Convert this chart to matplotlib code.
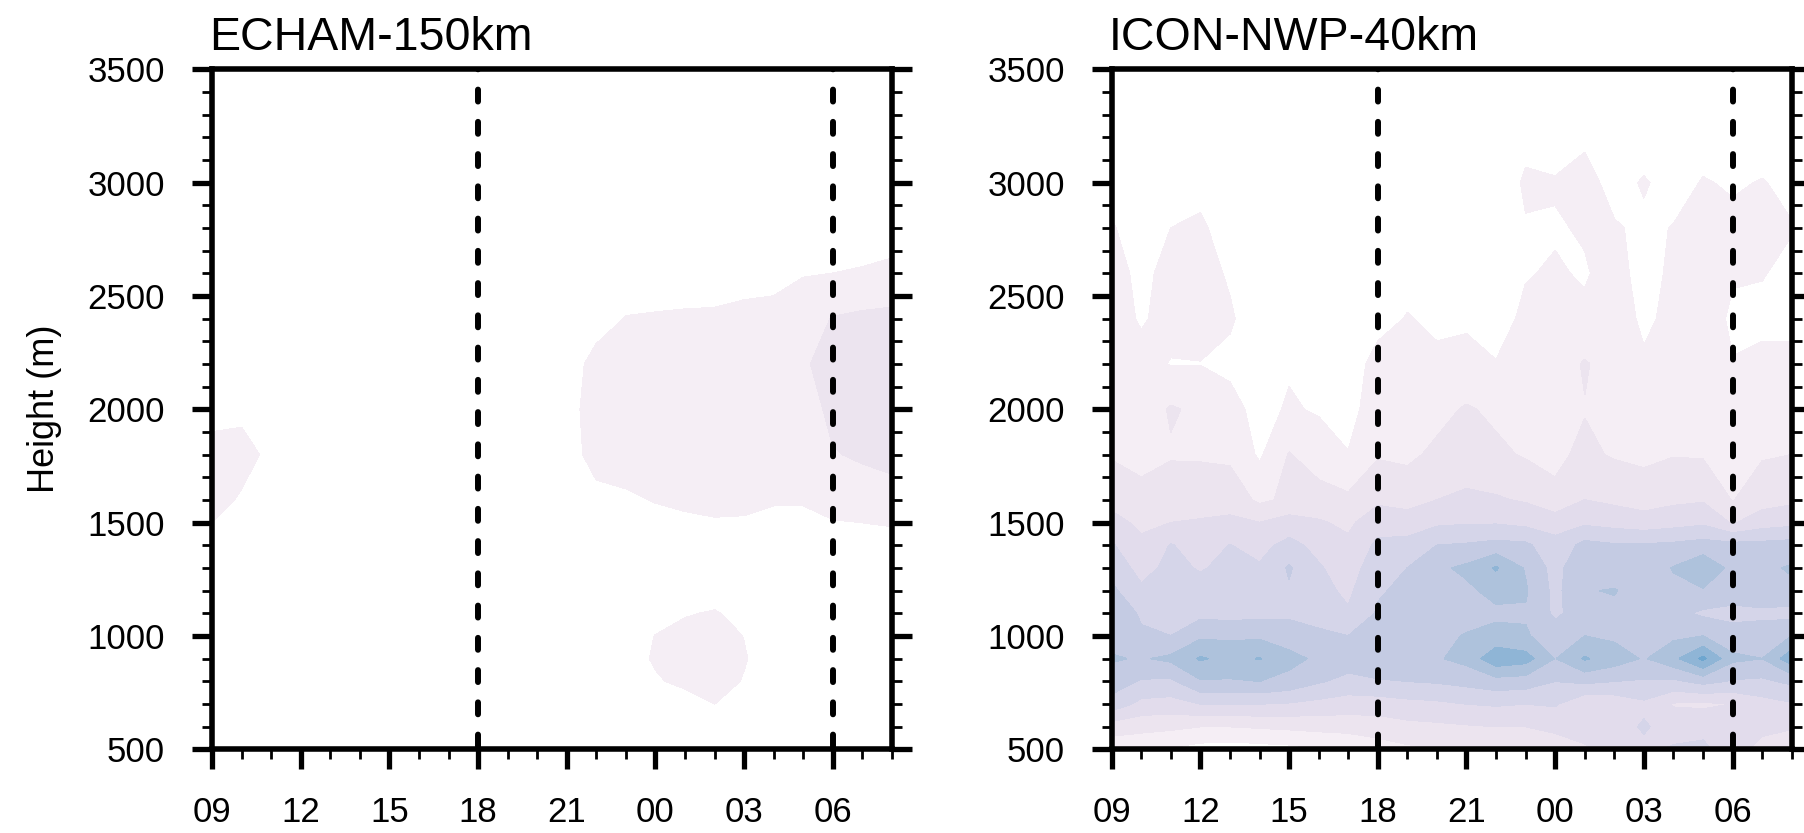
import numpy as np
import matplotlib
matplotlib.use("Agg")
import matplotlib.pyplot as plt
from matplotlib.ticker import MultipleLocator

plt.rcParams['font.family'] = ['Liberation Sans', 'DejaVu Sans']

# ---------------- data ----------------
hours = list(range(24))                      # 0 = 09 local, 23 = 08 next day
xtick_pos = [0, 3, 6, 9, 12, 15, 18, 21]
xtick_labels = ['09', '12', '15', '18', '21', '00', '03', '06']
heights = [500, 600, 700, 800, 900, 1000, 1100, 1200, 1300, 1400, 1500, 1600,
           1800, 2000, 2200, 2400, 2600, 2800, 3000, 3200, 3400, 3500]
levels = [1, 2, 3, 4, 5, 6, 7, 8, 9]
fill_colors = ['#f5eef5', '#ece4ef', '#e2dcec', '#d5d5e9', '#c4cbe3',
               '#aec2dc', '#8fb5d6', '#6ea6cf']
day_marks = [9, 21]                          # 18 and 06

# one profile per hour (values at `heights`)
echam_cols = [
    [0.3, 0.35, 0.4, 0.45, 0.5, 0.5, 0.5, 0.55, 0.6, 0.8, 1.0, 1.3, 1.2, 0.8, 0.6, 0.5, 0.4, 0.35, 0.3, 0.25, 0.2, 0.2],
    [0.3, 0.35, 0.4, 0.45, 0.5, 0.5, 0.5, 0.5, 0.55, 0.6, 0.7, 0.9, 1.3, 0.8, 0.6, 0.5, 0.4, 0.35, 0.3, 0.25, 0.2, 0.2],
    [0.3, 0.35, 0.4, 0.45, 0.5, 0.5, 0.5, 0.5, 0.5, 0.55, 0.6, 0.65, 0.8, 0.6, 0.5, 0.45, 0.4, 0.35, 0.3, 0.25, 0.2, 0.2],
    [0.3, 0.35, 0.4, 0.45, 0.5, 0.5, 0.45, 0.45, 0.45, 0.5, 0.55, 0.6, 0.6, 0.5, 0.45, 0.4, 0.35, 0.3, 0.25, 0.2, 0.2, 0.2],
    [0.3, 0.35, 0.4, 0.45, 0.5, 0.5, 0.45, 0.45, 0.45, 0.5, 0.5, 0.55, 0.55, 0.5, 0.45, 0.4, 0.35, 0.3, 0.25, 0.2, 0.2, 0.2],
    [0.3, 0.35, 0.4, 0.5, 0.55, 0.5, 0.45, 0.4, 0.45, 0.5, 0.5, 0.5, 0.5, 0.45, 0.4, 0.4, 0.35, 0.3, 0.25, 0.2, 0.2, 0.2],
    [0.3, 0.35, 0.45, 0.5, 0.55, 0.5, 0.45, 0.4, 0.4, 0.45, 0.5, 0.5, 0.5, 0.45, 0.4, 0.35, 0.3, 0.3, 0.25, 0.2, 0.2, 0.2],
    [0.3, 0.35, 0.45, 0.5, 0.55, 0.5, 0.45, 0.4, 0.4, 0.45, 0.5, 0.5, 0.5, 0.45, 0.4, 0.35, 0.3, 0.3, 0.25, 0.2, 0.2, 0.2],
    [0.3, 0.35, 0.4, 0.5, 0.55, 0.55, 0.5, 0.45, 0.45, 0.5, 0.5, 0.55, 0.55, 0.5, 0.45, 0.4, 0.35, 0.3, 0.25, 0.2, 0.2, 0.2],
    [0.3, 0.35, 0.4, 0.5, 0.55, 0.55, 0.5, 0.45, 0.45, 0.5, 0.55, 0.55, 0.6, 0.55, 0.5, 0.45, 0.35, 0.3, 0.25, 0.2, 0.2, 0.2],
    [0.3, 0.35, 0.45, 0.5, 0.6, 0.6, 0.5, 0.45, 0.45, 0.5, 0.55, 0.6, 0.6, 0.6, 0.55, 0.45, 0.4, 0.3, 0.25, 0.2, 0.2, 0.2],
    [0.3, 0.4, 0.45, 0.55, 0.6, 0.6, 0.55, 0.5, 0.5, 0.55, 0.6, 0.6, 0.65, 0.65, 0.6, 0.5, 0.4, 0.35, 0.25, 0.2, 0.2, 0.2],
    [0.35, 0.4, 0.45, 0.55, 0.65, 0.6, 0.55, 0.5, 0.5, 0.55, 0.6, 0.6, 0.7, 0.75, 0.7, 0.5, 0.4, 0.35, 0.3, 0.25, 0.2, 0.2],
    [0.35, 0.4, 0.45, 0.5, 0.55, 0.55, 0.5, 0.5, 0.5, 0.55, 0.65, 0.8, 1.25, 1.3, 1.2, 0.75, 0.5, 0.4, 0.3, 0.25, 0.2, 0.2],
    [0.4, 0.5, 0.6, 0.7, 0.8, 0.75, 0.6, 0.55, 0.55, 0.6, 0.75, 0.9, 1.3, 1.4, 1.3, 1.02, 0.7, 0.5, 0.35, 0.3, 0.25, 0.2],
    [0.45, 0.6, 0.8, 0.95, 1.05, 1.01, 0.8, 0.6, 0.6, 0.65, 0.8, 1.03, 1.4, 1.5, 1.4, 1.05, 0.7, 0.5, 0.35, 0.3, 0.25, 0.2],
    [0.5, 0.65, 0.8, 1.1, 1.3, 1.2, 0.95, 0.7, 0.65, 0.7, 0.9, 1.1, 1.45, 1.55, 1.45, 1.08, 0.7, 0.5, 0.35, 0.3, 0.25, 0.2],
    [0.5, 0.7, 1.0, 1.3, 1.4, 1.3, 1.05, 0.7, 0.65, 0.75, 0.95, 1.15, 1.5, 1.6, 1.5, 1.08, 0.75, 0.5, 0.35, 0.3, 0.25, 0.2],
    [0.5, 0.6, 0.8, 0.95, 1.05, 0.98, 0.8, 0.65, 0.65, 0.75, 0.93, 1.15, 1.5, 1.6, 1.5, 1.14, 0.8, 0.55, 0.4, 0.3, 0.25, 0.2],
    [0.45, 0.5, 0.55, 0.6, 0.6, 0.6, 0.55, 0.55, 0.6, 0.7, 0.85, 1.05, 1.4, 1.6, 1.6, 1.2, 0.8, 0.55, 0.4, 0.3, 0.25, 0.2],
    [0.4, 0.45, 0.5, 0.5, 0.5, 0.5, 0.5, 0.55, 0.6, 0.7, 0.85, 1.05, 1.3, 1.6, 1.9, 1.5, 0.95, 0.7, 0.45, 0.35, 0.25, 0.2],
    [0.4, 0.45, 0.5, 0.5, 0.5, 0.5, 0.5, 0.55, 0.65, 0.8, 0.95, 1.3, 1.95, 2.2, 2.3, 2.05, 1.0, 0.75, 0.5, 0.35, 0.25, 0.2],
    [0.4, 0.45, 0.5, 0.5, 0.5, 0.5, 0.5, 0.55, 0.7, 0.9, 1.0, 1.6, 2.1, 2.5, 2.6, 2.2, 1.05, 0.7, 0.5, 0.35, 0.25, 0.2],
    [0.4, 0.45, 0.5, 0.5, 0.5, 0.5, 0.5, 0.6, 0.75, 0.9, 1.02, 1.6, 2.3, 2.7, 2.8, 2.3, 1.1, 0.8, 0.5, 0.35, 0.25, 0.2],
]

icon_cols = [
    [1.3, 2.5, 4.6, 5.5, 6.1, 5.6, 5.5, 5.2, 4.7, 4.1, 3.3, 2.7, 1.9, 1.6, 1.5, 1.4, 1.3, 1.05, 0.8, 0.6, 0.5, 0.4],
    [1.2, 2.3, 3.7, 4.9, 5.9, 5.1, 4.9, 4.2, 3.6, 3.2, 2.8, 2.3, 1.7, 1.4, 1.3, 0.9, 0.8, 0.7, 0.6, 0.5, 0.4, 0.3],
    [0.9, 2.2, 3.6, 4.8, 6.2, 5.0, 4.8, 4.5, 4.3, 4.05, 3.0, 2.6, 1.9, 2.1, 0.95, 1.3, 1.25, 1.0, 0.7, 0.5, 0.4, 0.3],
    [0.6, 2.0, 4.0, 5.9, 7.1, 5.8, 4.7, 4.4, 3.9, 3.6, 3.1, 2.5, 1.9, 1.8, 0.97, 1.4, 1.3, 1.1, 0.8, 0.6, 0.4, 0.3],
    [0.5, 2.0, 4.0, 5.9, 6.7, 5.8, 4.6, 4.5, 4.3, 4.02, 3.2, 2.6, 1.8, 1.3, 0.8, 1.1, 0.9, 0.7, 0.6, 0.4, 0.3, 0.3],
    [0.6, 2.1, 4.0, 6.0, 7.05, 5.8, 4.7, 4.4, 4.1, 3.7, 3.0, 1.8, 0.85, 0.7, 0.6, 0.5, 0.4, 0.4, 0.3, 0.3, 0.3, 0.2],
    [0.7, 2.2, 3.9, 5.7, 6.3, 5.5, 4.8, 4.9, 5.1, 4.3, 3.4, 2.2, 2.05, 1.1, 0.9, 0.7, 0.6, 0.5, 0.4, 0.3, 0.3, 0.2],
    [0.9, 2.3, 3.7, 5.1, 5.8, 5.2, 4.6, 4.3, 4.1, 3.7, 3.1, 2.4, 1.5, 0.9, 0.8, 0.7, 0.6, 0.5, 0.4, 0.3, 0.3, 0.2],
    [1.0, 2.4, 3.5, 4.7, 5.5, 5.0, 4.1, 3.8, 3.5, 3.2, 2.8, 2.2, 1.02, 0.8, 0.7, 0.6, 0.5, 0.4, 0.4, 0.3, 0.3, 0.2],
    [1.5, 2.5, 3.5, 4.9, 5.7, 5.3, 5.1, 4.9, 4.6, 4.2, 3.6, 2.8, 1.9, 1.3, 1.2, 0.8, 0.6, 0.5, 0.4, 0.3, 0.3, 0.2],
    [1.8, 2.7, 3.7, 5.0, 5.8, 5.6, 5.5, 5.2, 5.0, 4.3, 3.5, 2.6, 1.8, 1.5, 1.3, 1.03, 0.8, 0.6, 0.5, 0.4, 0.3, 0.3],
    [2.0, 2.8, 3.8, 5.1, 5.9, 5.8, 5.7, 5.9, 5.8, 5.0, 3.8, 3.0, 2.2, 1.7, 1.1, 0.9, 0.7, 0.6, 0.5, 0.4, 0.3, 0.3],
    [2.0, 2.9, 4.0, 5.3, 6.3, 6.05, 5.7, 5.8, 6.2, 5.1, 3.9, 3.2, 2.4, 2.1, 1.2, 0.9, 0.7, 0.6, 0.6, 0.4, 0.3, 0.3],
    [2.2, 3.0, 4.1, 5.6, 7.7, 6.3, 5.8, 6.3, 7.1, 5.3, 3.9, 3.1, 2.2, 1.8, 1.02, 0.8, 0.7, 0.6, 0.5, 0.4, 0.3, 0.3],
    [2.3, 3.0, 4.0, 5.5, 7.4, 6.1, 5.9, 6.1, 5.9, 5.2, 3.7, 2.9, 1.9, 1.6, 1.3, 1.1, 0.97, 0.95, 1.1, 0.8, 0.5, 0.4],
    [2.5, 3.2, 4.1, 5.0, 5.95, 5.5, 4.8, 4.7, 4.6, 4.3, 3.6, 2.2, 1.8, 1.5, 1.4, 1.2, 1.05, 0.95, 1.05, 0.7, 0.5, 0.4],
    [2.9, 3.3, 3.1, 5.2, 7.1, 6.0, 5.5, 5.95, 5.9, 5.3, 3.8, 3.0, 2.2, 1.95, 2.1, 1.1, 0.95, 1.05, 1.2, 0.9, 0.6, 0.4],
    [3.2, 3.6, 3.3, 5.0, 6.5, 5.8, 5.8, 6.05, 5.5, 5.1, 3.6, 2.8, 1.9, 1.7, 1.5, 1.4, 1.2, 1.05, 0.8, 0.6, 0.5, 0.4],
    [3.8, 4.1, 3.8, 4.9, 5.9, 5.7, 5.8, 5.6, 5.4, 5.1, 3.4, 2.6, 1.75, 1.5, 1.1, 0.85, 0.8, 0.9, 1.05, 0.7, 0.5, 0.4],
    [4.1, 3.6, 2.9, 4.8, 6.7, 5.8, 5.3, 5.8, 6.05, 5.2, 3.6, 2.8, 1.95, 1.6, 1.3, 1.2, 1.1, 1.02, 0.8, 0.6, 0.5, 0.4],
    [4.2, 3.7, 2.8, 5.3, 8.2, 6.0, 4.8, 5.9, 6.8, 5.4, 3.8, 2.9, 1.9, 1.6, 1.4, 1.3, 1.2, 1.1, 1.03, 0.8, 0.6, 0.4],
    [3.5, 3.4, 3.0, 4.9, 6.2, 5.4, 4.7, 5.5, 5.7, 5.3, 2.9, 1.95, 1.6, 1.4, 1.02, 0.9, 1.05, 1.1, 0.95, 0.7, 0.5, 0.4],
    [2.6, 3.3, 3.6, 4.8, 6.0, 5.4, 4.8, 5.6, 5.8, 5.3, 3.5, 2.6, 1.9, 1.5, 1.1, 0.9, 1.02, 1.05, 1.02, 0.8, 0.6, 0.4],
    [2.2, 3.1, 3.9, 5.2, 7.6, 6.0, 4.6, 5.8, 6.1, 5.4, 3.7, 2.8, 2.0, 1.6, 1.1, 0.9, 0.9, 1.02, 0.9, 0.7, 0.5, 0.4],
]

titles = ['ECHAM-150km', 'ICON-NWP-40km']
ylabel = 'Height (m)'

# ---------------- figure ----------------
W, H = 1804, 833
fig = plt.figure(figsize=(W / 100, H / 100), dpi=100)

ax_w = 680 / W
ax_h = 680 / H
bottom = 1 - 749.3 / H
lefts = [212 / W, 1111.7 / W]

for k, (cols, title) in enumerate(zip([echam_cols, icon_cols], titles)):
    ax = fig.add_axes([lefts[k], bottom, ax_w, ax_h])
    Z = np.array(cols).T
    cs = ax.contourf(hours, heights, Z, levels=levels, colors=fill_colors, zorder=1)
    cs.set_edgecolor('face')
    cs.set_linewidth(0.4)

    for d in day_marks:
        ax.plot([d, d], [3500, 500], color='black', lw=4.3,
                linestyle=(1.95, (2.0, 3.4)), dash_capstyle='round', zorder=3)

    ax.set_xlim(0, 23)
    ax.set_ylim(500, 3500)
    ax.set_xticks(xtick_pos)
    ax.set_xticklabels(xtick_labels)
    ax.xaxis.set_minor_locator(MultipleLocator(1))
    ax.yaxis.set_major_locator(MultipleLocator(500))
    ax.yaxis.set_minor_locator(MultipleLocator(100))

    ax.tick_params(which='major', direction='out', length=14.4, width=3.8,
                   top=False, right=True, labelsize=25, pad=19.4, colors='black')
    ax.tick_params(which='minor', direction='out', length=7.2, width=2.0,
                   top=False, right=True)
    for s in ax.spines.values():
        s.set_linewidth(4.0)

    ax.text(-3 / 680, 1 + 19.3 / 680, title, transform=ax.transAxes, ha='left',
            va='baseline', fontsize=33.5)

fig.text(45 / W, 1 - 409 / H, ylabel, rotation=90, ha='center', va='center',
         fontsize=26)

fig.savefig('out.png', dpi=100)
